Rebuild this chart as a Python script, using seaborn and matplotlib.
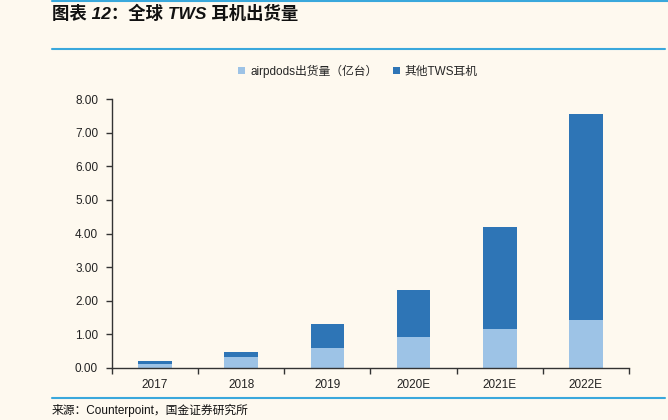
import matplotlib
matplotlib.use("Agg")
import matplotlib.pyplot as plt
import seaborn as sns
import pandas as pd
import numpy as np
from matplotlib.patches import Patch
from matplotlib.lines import Line2D

categories = ["2017", "2018", "2019", "2020E", "2021E", "2022E"]
airpods = [0.13, 0.33, 0.60, 0.91, 1.16, 1.42]
other = [0.07, 0.15, 0.72, 1.41, 3.03, 6.12]
yticks = [0, 1, 2, 3, 4, 5, 6, 7, 8]

series_names = ["airpdods出货量（亿台）", "其他TWS耳机"]
title = "图表 12：全球 TWS 耳机出货量"
source = "来源：Counterpoint，国金证券研究所"

bg = "#FEF9EF"
light = "#9DC3E6"
dark = "#2E75B6"
line_blue = "#3AA8DC"

sns.set_theme(style="ticks")
plt.rcParams["font.family"] = ["Liberation Sans", "Noto Sans CJK SC", "DejaVu Sans"]

total = [a + o for a, o in zip(airpods, other)]
df = pd.DataFrame({"cat": categories, "airpods": airpods, "total": total})

fig = plt.figure(figsize=(6.68, 4.2), dpi=100, facecolor=bg)
ax = fig.add_axes([112 / 668, 1 - 368 / 420, (629 - 112) / 668, (368 - 99) / 420])
ax.set_facecolor(bg)

sns.barplot(data=df, x="cat", y="total", color=dark, width=0.39, ax=ax,
            saturation=1, edgecolor="none")
sns.barplot(data=df, x="cat", y="airpods", color=light, width=0.39, ax=ax,
            saturation=1, edgecolor="none")

ax.set_xlim(-0.5, len(categories) - 0.5)
ax.set_ylim(0, 8)
ax.set_yticks(yticks)
ax.set_yticklabels([f"{v:.2f}" for v in yticks])
ax.set_xlabel("")
ax.set_ylabel("")
ax.tick_params(axis="x", which="major", length=0, pad=8, labelsize=8.5, colors="#222222")
ax.set_xticks(np.arange(-0.5, len(categories), 1.0), minor=True)
ax.tick_params(axis="x", which="minor", length=4, width=1, color="#333333", direction="out")
ax.tick_params(axis="y", length=4, width=1, color="#333333", labelsize=8.5, colors="#222222", pad=6)
for s in ["top", "right"]:
    ax.spines[s].set_visible(False)
for s in ["left", "bottom"]:
    ax.spines[s].set_color("#333333")
    ax.spines[s].set_linewidth(1.0)

handles = [Patch(facecolor=light, edgecolor="none"), Patch(facecolor=dark, edgecolor="none")]
fig.legend(handles, series_names, loc="center", bbox_to_anchor=(358 / 668, 1 - 71 / 420),
           ncol=2, frameon=False, fontsize=8.5, handlelength=0.6, handleheight=0.6,
           columnspacing=1.3, handletextpad=0.4)

fig.text(52 / 668, 1 - 13 / 420, title, fontsize=12.5, fontweight="bold", style="italic",
         va="center", ha="left", color="#111111")
fig.text(52 / 668, 1 - 410 / 420, source, fontsize=8.5, va="center", ha="left", color="#111111")

fig.add_artist(Line2D([52 / 668, 1.0], [1 - 1 / 420, 1 - 1 / 420], color=line_blue, lw=1.5))
fig.add_artist(Line2D([52 / 668, 665 / 668], [1 - 49 / 420, 1 - 49 / 420], color=line_blue, lw=1.5))
fig.add_artist(Line2D([52 / 668, 665 / 668], [1 - 398 / 420, 1 - 398 / 420], color=line_blue, lw=1.5))

fig.savefig("out.png", dpi=100, facecolor=bg)
